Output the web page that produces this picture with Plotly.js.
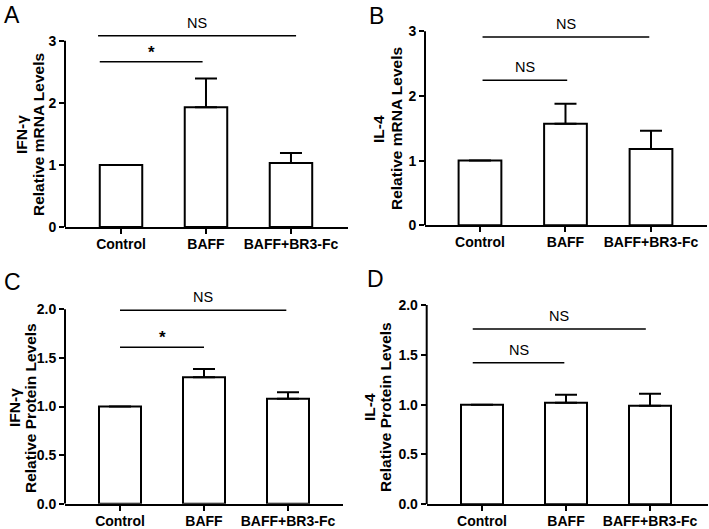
<!DOCTYPE html>
<html>
<head>
<meta charset="utf-8">
<script src="https://cdn.plot.ly/plotly-3.0.1.min.js"></script>
<style>
  html, body { margin: 0; padding: 0; background: #fff; }
  #chart { width: 709px; height: 529px; }
</style>
</head>
<body>
<div id="chart"></div>
<script>
// Relative expression, mean with upper error bar only (Control has none)

const groups = ['Control', 'BAFF', 'BAFF+BR3-Fc'];

const ifnMrna = [1.0, 1.93, 1.03];
const ifnMrnaErr = [null, 0.46, 0.16];
const il4Mrna = [1.0, 1.57, 1.18];
const il4MrnaErr = [null, 0.31, 0.28];
const ifnProtein = [1.0, 1.30, 1.08];
const ifnProteinErr = [null, 0.086, 0.066];
const il4Protein = [1.0, 1.02, 0.99];
const il4ProteinErr = [null, 0.08, 0.12];

// significance brackets: [from, to, level, label]
const ifnMrnaSig = [[-0.25, 0.96, 2.66, '*'], [-0.27, 2.06, 3.08, 'NS']];
const il4MrnaSig = [[0.03, 1.02, 2.24, 'NS'], [0.03, 1.98, 2.91, 'NS']];
const ifnProteinSig = [[0.0, 1.0, 1.61, '*'], [0.0, 1.98, 1.99, 'NS']];
const il4ProteinSig = [[-0.11, 0.98, 1.42, 'NS'], [-0.11, 1.95, 1.76, 'NS']];

const W = 709, H = 529;
const FONT = 'Liberation Sans, Arial, Helvetica, sans-serif';

// pixel boxes of each plot area; unit = pixels per y unit
const panels = [
    { letter: 'A', gene: 'IFN-γ', measure: 'Relative mRNA Levels', y: ifnMrna, err: ifnMrnaErr, sig: ifnMrnaSig,
      box: { l: 65, r: 348, b: 227, t: 5 }, unit: 62.1, xr: [-0.659, 2.671], ticks: [0, 1, 2, 3], fmt: 'd',
      letterAt: [12, 0], titleX: [21, 38], titleY: 135 },
    { letter: 'B', gene: 'IL-4', measure: 'Relative mRNA Levels', y: il4Mrna, err: il4MrnaErr, sig: il4MrnaSig,
      box: { l: 425, r: 707, b: 225.3, t: 5 }, unit: 64.7, xr: [-0.643, 2.655], ticks: [0, 1, 2, 3], fmt: 'd',
      letterAt: [377, 1], titleX: [378, 396], titleY: 129 },
    { letter: 'C', gene: 'IFN-γ', measure: 'Relative Protein Levels', y: ifnProtein, err: ifnProteinErr, sig: ifnProteinSig,
      box: { l: 65, r: 343, b: 503.7, t: 270 }, unit: 97.2, xr: [-0.655, 2.655], ticks: [0, 0.5, 1, 1.5, 2], fmt: '.1f',
      letterAt: [12, 267], titleX: [14, 30], titleY: 408 },
    { letter: 'D', gene: 'IL-4', measure: 'Relative Protein Levels', y: il4Protein, err: il4ProteinErr, sig: il4ProteinSig,
      box: { l: 426.7, r: 708, b: 504.3, t: 270 }, unit: 99.65, xr: [-0.658, 2.69], ticks: [0, 0.5, 1, 1.5, 2], fmt: '.1f',
      letterAt: [376, 264], titleX: [369, 385], titleY: 407 }
];

const traces = [];
const shapes = [];
const annotations = [];
const layout = {
    width: W,
    height: H,
    margin: { l: 0, r: 0, t: 0, b: 0 },
    paper_bgcolor: 'white',
    plot_bgcolor: 'white',
    showlegend: false,
    font: { family: FONT, color: '#000' }
};

panels.forEach((p, i) => {
    const n = i === 0 ? '' : String(i + 1);
    const xa = 'x' + n, ya = 'y' + n;
    const xPos = groups.map((g, k) => k);

    traces.push({
        type: 'bar',
        x: xPos,
        y: p.y,
        width: 0.5,
        xaxis: xa,
        yaxis: ya,
        marker: { color: 'white', line: { color: '#000', width: 2 } },
        error_y: {
            type: 'data',
            symmetric: false,
            array: p.err,
            arrayminus: p.err.map(e => (e === null ? null : 0)),
            color: '#000',
            thickness: 2,
            width: 11
        },
        hoverinfo: 'x+y'
    });

    layout['xaxis' + n] = {
        domain: [p.box.l / W, p.box.r / W],
        anchor: ya,
        range: p.xr,
        tickvals: xPos,
        ticktext: groups,
        showline: true,
        linecolor: '#000',
        linewidth: 2,
        ticks: 'outside',
        ticklen: 5,
        tickwidth: 2,
        tickcolor: '#000',
        ticklabelstandoff: -2,
        showgrid: false,
        zeroline: false,
        fixedrange: true,
        tickfont: { family: FONT, size: 14, weight: 'bold', color: '#000' }
    };

    const top = p.ticks[p.ticks.length - 1];
    layout['yaxis' + n] = {
        domain: [(H - p.box.b) / H, (H - p.box.t) / H],
        anchor: xa,
        range: [0, (p.box.b - p.box.t) / p.unit],
        tickvals: p.ticks,
        tickformat: p.fmt,
        showline: false,
        ticks: 'outside',
        ticklen: 5,
        tickwidth: 2,
        tickcolor: '#000',
        showgrid: false,
        zeroline: false,
        fixedrange: true,
        tickfont: { family: FONT, size: 14, weight: 'bold', color: '#000' }
    };

    // y axis spine stops at the top tick
    shapes.push({
        type: 'line', xref: xa + ' domain', yref: ya,
        x0: 0, x1: 0, y0: 0, y1: top,
        line: { color: '#000', width: 2 }
    });

    p.sig.forEach(s => {
        shapes.push({
            type: 'line', xref: xa, yref: ya,
            x0: s[0], x1: s[1], y0: s[2], y1: s[2],
            line: { color: '#000', width: 1.5 }
        });
        const star = s[3] === '*';
        annotations.push({
            xref: xa, yref: ya,
            x: (s[0] + s[1]) / 2, y: s[2],
            text: s[3],
            showarrow: false,
            xanchor: 'center', yanchor: 'bottom',
            yshift: star ? -2 : 3,
            font: { family: FONT, size: star ? 17 : 14.5, weight: star ? 'bold' : 'normal', color: '#000' }
        });
    });

    annotations.push({
        xref: 'paper', yref: 'paper',
        x: p.letterAt[0] / W, y: 1 - p.letterAt[1] / H,
        xanchor: 'center', yanchor: 'top',
        text: p.letter,
        showarrow: false,
        font: { family: FONT, size: 23, color: '#000' }
    });

    [p.gene, p.measure].forEach((t, k) => {
        annotations.push({
            xref: 'paper', yref: 'paper',
            x: p.titleX[k] / W, y: 1 - p.titleY / H,
            xanchor: 'center', yanchor: 'middle',
            text: t,
            textangle: -90,
            showarrow: false,
            font: { family: FONT, size: 15.5, weight: 'bold', color: '#000' }
        });
    });
});

layout.shapes = shapes;
layout.annotations = annotations;

Plotly.newPlot('chart', traces, layout, { displayModeBar: false, staticPlot: true });
</script>
</body>
</html>
